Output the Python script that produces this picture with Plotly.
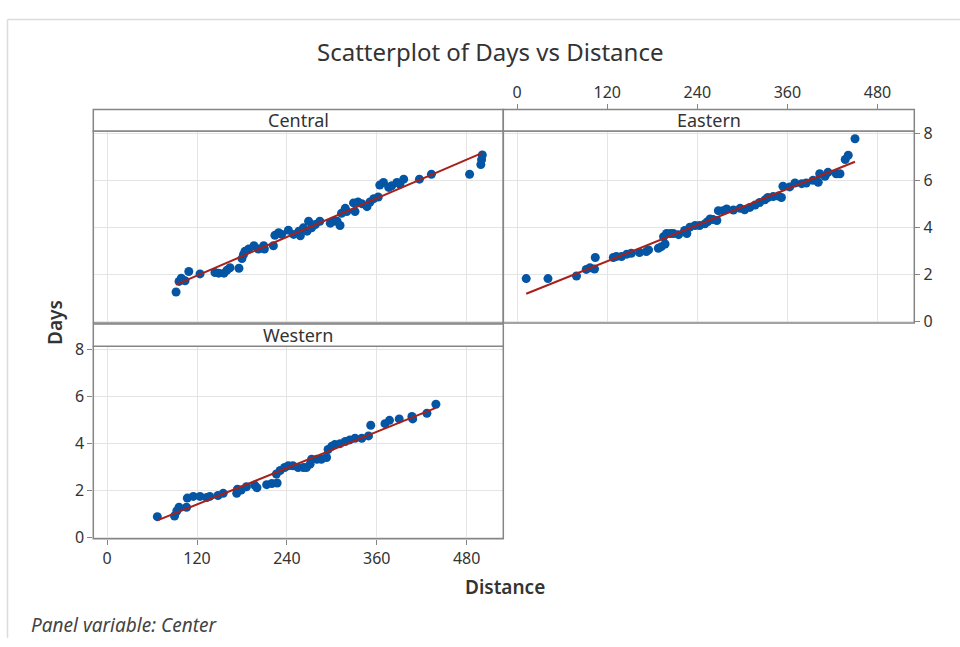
import numpy as np
import plotly.graph_objects as go

# ---------------- data ----------------
central_x = [92, 96, 99, 104, 109, 124, 144, 149, 156, 160, 164, 176, 180, 182, 184, 189, 196, 202, 209, 210,
             222, 224, 229, 233, 242, 249, 256, 258, 262, 267, 269, 273, 278, 284, 298, 302, 307, 311, 313, 318,
             320, 329, 331, 335, 340, 347, 351, 356, 362, 364, 369, 376, 380, 387, 391, 396, 417, 433, 484, 499,
             500, 501]
central_y = [1.27, 1.72, 1.86, 1.75, 2.14, 2.04, 2.10, 2.07, 2.07, 2.20, 2.30, 2.28, 2.69, 2.86, 3.00, 3.10, 3.24,
             3.10, 3.24, 3.10, 3.24, 3.68, 3.79, 3.72, 3.90, 3.72, 3.86, 3.66, 4.00, 3.86, 4.28, 4.00, 4.14, 4.28,
             4.20, 4.28, 4.28, 4.10, 4.62, 4.83, 4.69, 5.06, 4.69, 5.10, 5.03, 4.90, 5.10, 5.24, 5.31, 5.82, 5.93,
             5.72, 5.79, 5.93, 5.86, 6.07, 6.07, 6.28, 6.28, 6.69, 6.90, 7.10]

eastern_x = [12, 41, 79, 92, 97, 103, 104, 128, 132, 139, 146, 152, 163, 172, 175, 188, 192, 195, 197, 199,
             204, 208, 215, 223, 226, 230, 237, 243, 250, 254, 257, 261, 266, 268, 274, 279, 288, 297, 303, 310,
             317, 323, 330, 334, 341, 348, 352, 354, 363, 370, 379, 385, 394, 401, 403, 410, 414, 425, 430, 437,
             441, 450]
eastern_y = [1.84, 1.84, 1.95, 2.23, 2.30, 2.25, 2.74, 2.74, 2.78, 2.78, 2.88, 2.92, 2.95, 2.99, 3.06, 3.13, 3.20,
             3.62, 3.31, 3.76, 3.76, 3.76, 3.71, 3.89, 3.76, 4.03, 4.10, 4.10, 4.17, 4.27, 4.38, 4.35, 4.31, 4.73,
             4.73, 4.80, 4.76, 4.83, 4.77, 4.87, 4.97, 5.08, 5.19, 5.29, 5.33, 5.35, 5.29, 5.77, 5.74, 5.91, 5.88,
             5.91, 6.02, 5.94, 6.30, 6.19, 6.36, 6.30, 6.30, 6.91, 7.09, 7.79]

western_x = [67, 90, 93, 96, 106, 107, 115, 124, 133, 137, 148, 155, 173, 174, 179, 186, 197, 200, 213, 220,
             226, 227, 231, 237, 242, 248, 255, 262, 266, 271, 273, 280, 286, 293, 295, 300, 304, 311, 318, 324,
             331, 340, 349, 352, 371, 377, 390, 407, 408, 427, 439]
western_y = [0.89, 0.92, 1.13, 1.29, 1.29, 1.68, 1.75, 1.75, 1.70, 1.75, 1.79, 1.88, 1.88, 2.06, 2.02, 2.16, 2.23,
             2.12, 2.25, 2.30, 2.70, 2.32, 2.85, 2.98, 3.05, 3.05, 2.98, 2.98, 2.98, 3.12, 3.33, 3.33, 3.33, 3.40,
             3.74, 3.88, 3.95, 3.99, 4.08, 4.15, 4.22, 4.22, 4.32, 4.77, 4.84, 4.98, 5.04, 5.14, 5.04, 5.28, 5.66]

panel_names = ["Central", "Eastern", "Western"]
x_ticks = [0, 120, 240, 360, 480]
y_ticks = [0, 2, 4, 6, 8]

# ---------------- styling ----------------
W, H = 960, 647
FONT = "Noto Sans"
TXT = "#333333"
FRAME = "#858585"
GRID = "#e4e4e4"
DOT = "#0455a4"
FIT = "#a8201a"

def px(x):
    return x / W

def py(y):
    return 1 - y / H

X_RANGE = [-18.5, 529]
Y_RANGE = [-0.05, 8.12]

# plot-area boxes (pixels): left, right, top, bottom
boxes = {
    "Central": (93.3, 503.3, 125.5, 323.0),
    "Eastern": (503.3, 914.3, 125.5, 323.0),
    "Western": (93.3, 503.3, 347.0, 545.0),
}
strips = {
    "Central": (93.3, 503.3, 103.3, 125.5),
    "Eastern": (503.3, 914.3, 103.3, 125.5),
    "Western": (93.3, 503.3, 324.0, 347.0),
}

fig = go.Figure()

data = {
    "Central": (central_x, central_y),
    "Eastern": (eastern_x, eastern_y),
    "Western": (western_x, western_y),
}

for i, name in enumerate(panel_names, start=1):
    xs, ys = data[name]
    xa = "x" if i == 1 else f"x{i}"
    ya = "y" if i == 1 else f"y{i}"
    b, a = np.polyfit(xs, ys, 1)
    xl = [min(xs), max(xs)]
    yl = [a + b * v for v in xl]
    fig.add_trace(go.Scatter(x=xs, y=ys, mode="markers", xaxis=xa, yaxis=ya,
                             marker=dict(color=DOT, size=9, line=dict(width=0)),
                             showlegend=False, hoverinfo="x+y"))
    fig.add_trace(go.Scatter(x=xl, y=yl, mode="lines", xaxis=xa, yaxis=ya,
                             line=dict(color=FIT, width=2), showlegend=False, hoverinfo="skip"))

TICKFONT = dict(family=FONT, size=16, color=TXT)
common_x = dict(range=X_RANGE, tickvals=x_ticks, showgrid=True, gridcolor=GRID, gridwidth=1,
                zeroline=False, showline=False, tickfont=TICKFONT,
                ticklen=5, tickcolor=FRAME, tickwidth=1)
common_y = dict(range=Y_RANGE, tickvals=y_ticks, showgrid=True, gridcolor=GRID, gridwidth=1,
                zeroline=False, showline=False, tickfont=TICKFONT,
                ticklen=5, tickcolor=FRAME, tickwidth=1)

c = boxes["Central"]
e = boxes["Eastern"]
w = boxes["Western"]

fig.update_layout(
    xaxis=dict(common_x, domain=[px(c[0]), px(c[1])], anchor="y", showticklabels=False, ticks=""),
    yaxis=dict(common_y, domain=[py(c[3]), py(c[2])], anchor="x", showticklabels=False, ticks=""),
    xaxis2=dict(common_x, domain=[px(e[0]), px(e[1])], anchor="free", position=py(103.3),
                side="top", ticks="outside"),
    yaxis2=dict(common_y, domain=[py(e[3]), py(e[2])], anchor="x2", side="right", ticks="outside"),
    xaxis3=dict(common_x, domain=[px(w[0]), px(w[1])], anchor="y3", ticks="outside"),
    yaxis3=dict(common_y, domain=[py(w[3]), py(w[2])], anchor="x3", ticks="outside"),
)

shapes = []
# outer window frame (left and top edges)
shapes.append(dict(type="line", xref="paper", yref="paper", x0=px(7.5), x1=px(7.5), y0=0, y1=py(10.7),
                   line=dict(color="#dcdcdc", width=1.5)))
shapes.append(dict(type="line", xref="paper", yref="paper", x0=px(7.5), x1=1, y0=py(10.7), y1=py(10.7),
                   line=dict(color="#dcdcdc", width=1.5)))
for name in panel_names:
    l, r, t, bt = boxes[name]
    shapes.append(dict(type="rect", xref="paper", yref="paper", x0=px(l), x1=px(r), y0=py(bt), y1=py(t),
                       line=dict(color=FRAME, width=1.5), fillcolor="rgba(0,0,0,0)", layer="above"))
    l, r, t, bt = strips[name]
    shapes.append(dict(type="rect", xref="paper", yref="paper", x0=px(l), x1=px(r), y0=py(bt), y1=py(t),
                       line=dict(color=FRAME, width=1.5), fillcolor="white", layer="above"))

annotations = []
for name in panel_names:
    l, r, t, bt = strips[name]
    annotations.append(dict(text=name, xref="paper", yref="paper", x=px((l + r) / 2), y=py((t + bt) / 2),
                            xanchor="center", yanchor="middle", showarrow=False,
                            font=dict(family=FONT, size=18, color=TXT)))

annotations.append(dict(text="Scatterplot of Days vs Distance", xref="paper", yref="paper",
                        x=px(490), y=py(44), xanchor="center", yanchor="middle", showarrow=False,
                        font=dict(family=FONT, size=24, color=TXT)))
annotations.append(dict(text="Distance", xref="paper", yref="paper", x=px(505), y=py(595),
                        xanchor="center", yanchor="middle", showarrow=False,
                        font=dict(family=FONT, size=19, color=TXT, weight=600)))
annotations.append(dict(text="Days", xref="paper", yref="paper", x=px(55), y=py(323), textangle=-90,
                        xanchor="center", yanchor="middle", showarrow=False,
                        font=dict(family=FONT, size=19, color=TXT, weight=600)))
annotations.append(dict(text="<i>Panel variable: Center</i>", xref="paper", yref="paper", x=px(29), y=py(634),
                        xanchor="left", yanchor="middle", showarrow=False,
                        font=dict(family=FONT, size=19, color="#444444")))

fig.update_layout(
    width=W, height=H, margin=dict(l=0, r=0, t=0, b=0),
    paper_bgcolor="white", plot_bgcolor="white",
    shapes=shapes, annotations=annotations,
    font=dict(family=FONT, color=TXT),
)

fig.write_html("out.html", config={"displayModeBar": False},
               post_script="document.body.style.margin='0';")
